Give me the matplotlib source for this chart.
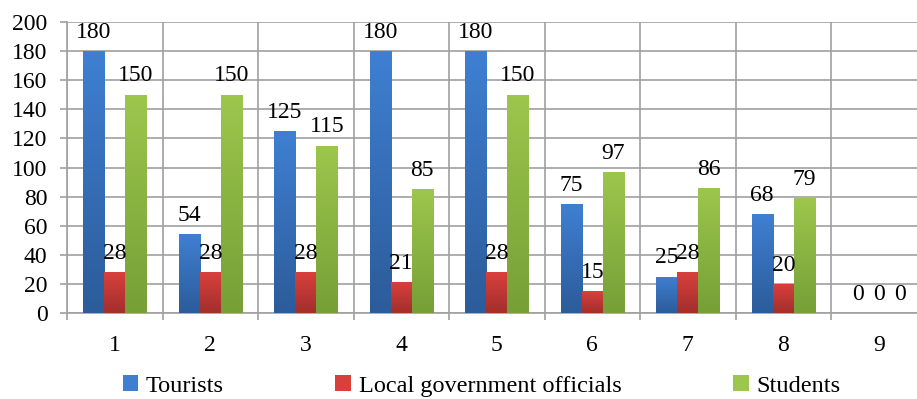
import matplotlib.pyplot as plt
import matplotlib.colors as mcolors
import numpy as np
from matplotlib.patches import Patch

# ----------------------------
# data
# ----------------------------
categories = ["1", "2", "3", "4", "5", "6", "7", "8", "9"]
tourists = [180, 54, 125, 180, 180, 75, 25, 68, 0]
officials = [28, 28, 28, 21, 28, 15, 28, 20, 0]
students = [150, 150, 115, 85, 150, 97, 86, 79, 0]

series_names = ["Tourists", "Local government officials", "Students"]
# (top colour, bottom colour) for the gradient fill
series_colors = [("#3f7fd2", "#2c5c9a"), ("#d8403c", "#a22f2c"), ("#9cc64c", "#76a036")]

plt.rcParams['font.family'] = ['Liberation Serif', 'DejaVu Serif']

fig = plt.figure(figsize=(9.17, 3.99), dpi=100)
ax = fig.add_axes([67/917, 86/399, 9*95.5/917, 291/399])

x = np.arange(len(categories))
w = 0.22
grid_col = "#a0a0a0"
fs = 17


def gradient_bar(rect, c_top, c_bot):
    cmap = mcolors.LinearSegmentedColormap.from_list("g", [c_bot, c_top])
    h = rect.get_height()
    if h <= 0:
        rect.set_visible(False)
        return
    x0 = rect.get_x()
    grad = np.linspace(0, 1, 64).reshape(-1, 1)
    im = ax.imshow(grad, cmap=cmap, origin="lower", aspect="auto",
                   extent=(x0, x0 + rect.get_width(), 0, h), zorder=3)
    im.set_clip_path(rect)
    rect.set_facecolor("none")


for i, (vals, name, (ct, cb)) in enumerate(zip([tourists, officials, students],
                                                series_names, series_colors)):
    bars = ax.bar(x + (i - 1) * w, vals, w, color=cb, label=name, zorder=3, linewidth=0)
    for b, v in zip(bars, vals):
        gradient_bar(b, ct, cb)
        ax.annotate(str(v), (b.get_x() + b.get_width()/2, v), xytext=(0, 6),
                    textcoords="offset points", ha="center", va="bottom",
                    fontsize=fs, zorder=5)

ax.set_xlim(-0.5, 8.5)
ax.set_ylim(0, 200)
ax.set_yticks(range(0, 201, 20))
ax.set_xticks(x)
ax.set_xticklabels(categories)
ax.set_xticks(np.arange(-0.5, 9.0, 1), minor=True)

ax.tick_params(axis="x", which="major", length=0, pad=16, labelsize=fs)
ax.tick_params(axis="x", which="minor", length=5, width=1.2, color=grid_col, direction="out")
ax.tick_params(axis="y", length=5, width=1.2, color=grid_col, pad=9, labelsize=fs)

ax.grid(True, axis="y", color=grid_col, linewidth=1.2, zorder=0)
ax.grid(True, axis="x", which="minor", color=grid_col, linewidth=1.2, zorder=0)
for s in ["top", "right"]:
    ax.spines[s].set_visible(False)
for s in ["left", "bottom"]:
    ax.spines[s].set_color(grid_col)
    ax.spines[s].set_linewidth(1.2)

handles = [Patch(facecolor=c[0], edgecolor="none") for c in series_colors]
fig.legend(handles, series_names, loc="center", bbox_to_anchor=(0.525, 0.033),
           ncol=3, frameon=False, fontsize=17.5, handlelength=0.65, handleheight=0.65,
           handletextpad=0.3, columnspacing=4.6)

fig.savefig("out.png", dpi=100)
